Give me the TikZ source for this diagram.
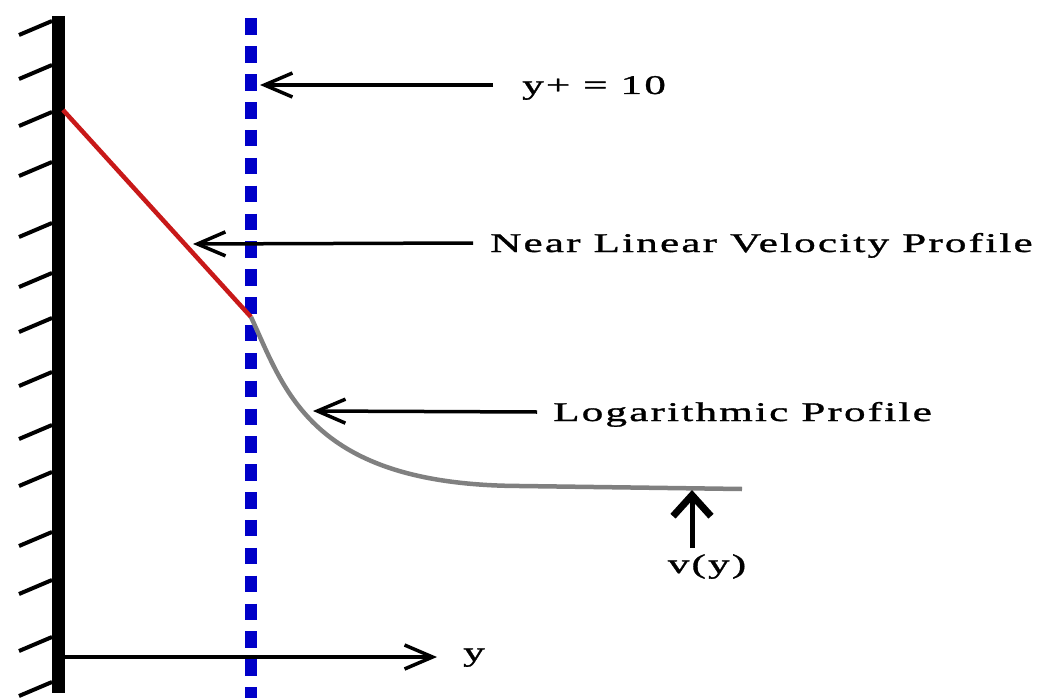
\documentclass[tikz,border=0pt]{standalone}
\usepackage{fontspec}
\newfontfamily\lblfont[FakeStretch=1.6,LetterSpace=8,FakeBold=1.2]{Liberation Serif}
\usetikzlibrary{arrows.meta}
\definecolor{plusblue}{RGB}{0,0,200}
\definecolor{linred}{RGB}{200,25,25}
\definecolor{loggray}{RGB}{128,128,128}
\begin{document}
\begin{tikzpicture}[x=1pt, y=-1pt,
        lbl/.style={font=\lblfont\fontsize{27}{30}\selectfont, inner sep=0pt, text height=18pt, text depth=0pt, anchor=west},
        barb/.style={line width=3.5pt, -{Straight Barb[length=28pt,width=24pt]}},
        fatbarb/.style={line width=5pt, -{Straight Barb[length=21pt,width=38pt,line width=7pt]}}]
        \useasboundingbox (0,0) rectangle (1046,698);
        % wall and hatching
        \draw[line width=13pt] (58.5,16) -- (58.5,693);
        \foreach \h in {21,65,112,162,223,273,318,372,425,472,532,580,637,682}
            \draw[line width=4pt] (52,\h) -- (19,\h+14);
        % y+ = 10 line
        \draw[plusblue, line width=12pt, dash pattern=on 16.5pt off 11.36pt] (251,18.5) -- (251,698);
        % profiles
        \draw[linred, line width=4.5pt] (63,110) -- (251,317);
        \draw[loggray, line width=4.5pt] (251,317) .. controls (285,390) and (310,485) .. (520,486) -- (742,489);

        \node[lbl] (yplus) at (522,85) {y+ = 10};
        \node[lbl] (nearlin) at (490,243) {Near Linear Velocity Profile};
        \node[lbl] (logprof) at (553,412) {Logarithmic Profile};
        \node[lbl, anchor=base] (vofy) at (707,573) {v(y)};
        \node[lbl, anchor=base west] (ylbl) at (463,661) {y};

        \coordinate (yptip) at (260,85);
        \coordinate (neartip) at (193,244);
        \coordinate (logtip) at (313,411);
        \coordinate (vtip) at (692,490);
        \coordinate (vbase) at (692,548);
        \coordinate (origin) at (65,657);
        \coordinate (axtip) at (437,657);

        \draw[barb] ([xshift=-29pt]yplus.west) -- (yptip);
        \draw[barb] ([xshift=-17pt]nearlin.west) -- (neartip);
        \draw[barb] ([xshift=-16pt]logprof.west) -- (logtip);
        \draw[fatbarb] (vbase) -- (vtip);
        \draw[barb] (origin) -- (axtip);
\end{tikzpicture}
\end{document}
